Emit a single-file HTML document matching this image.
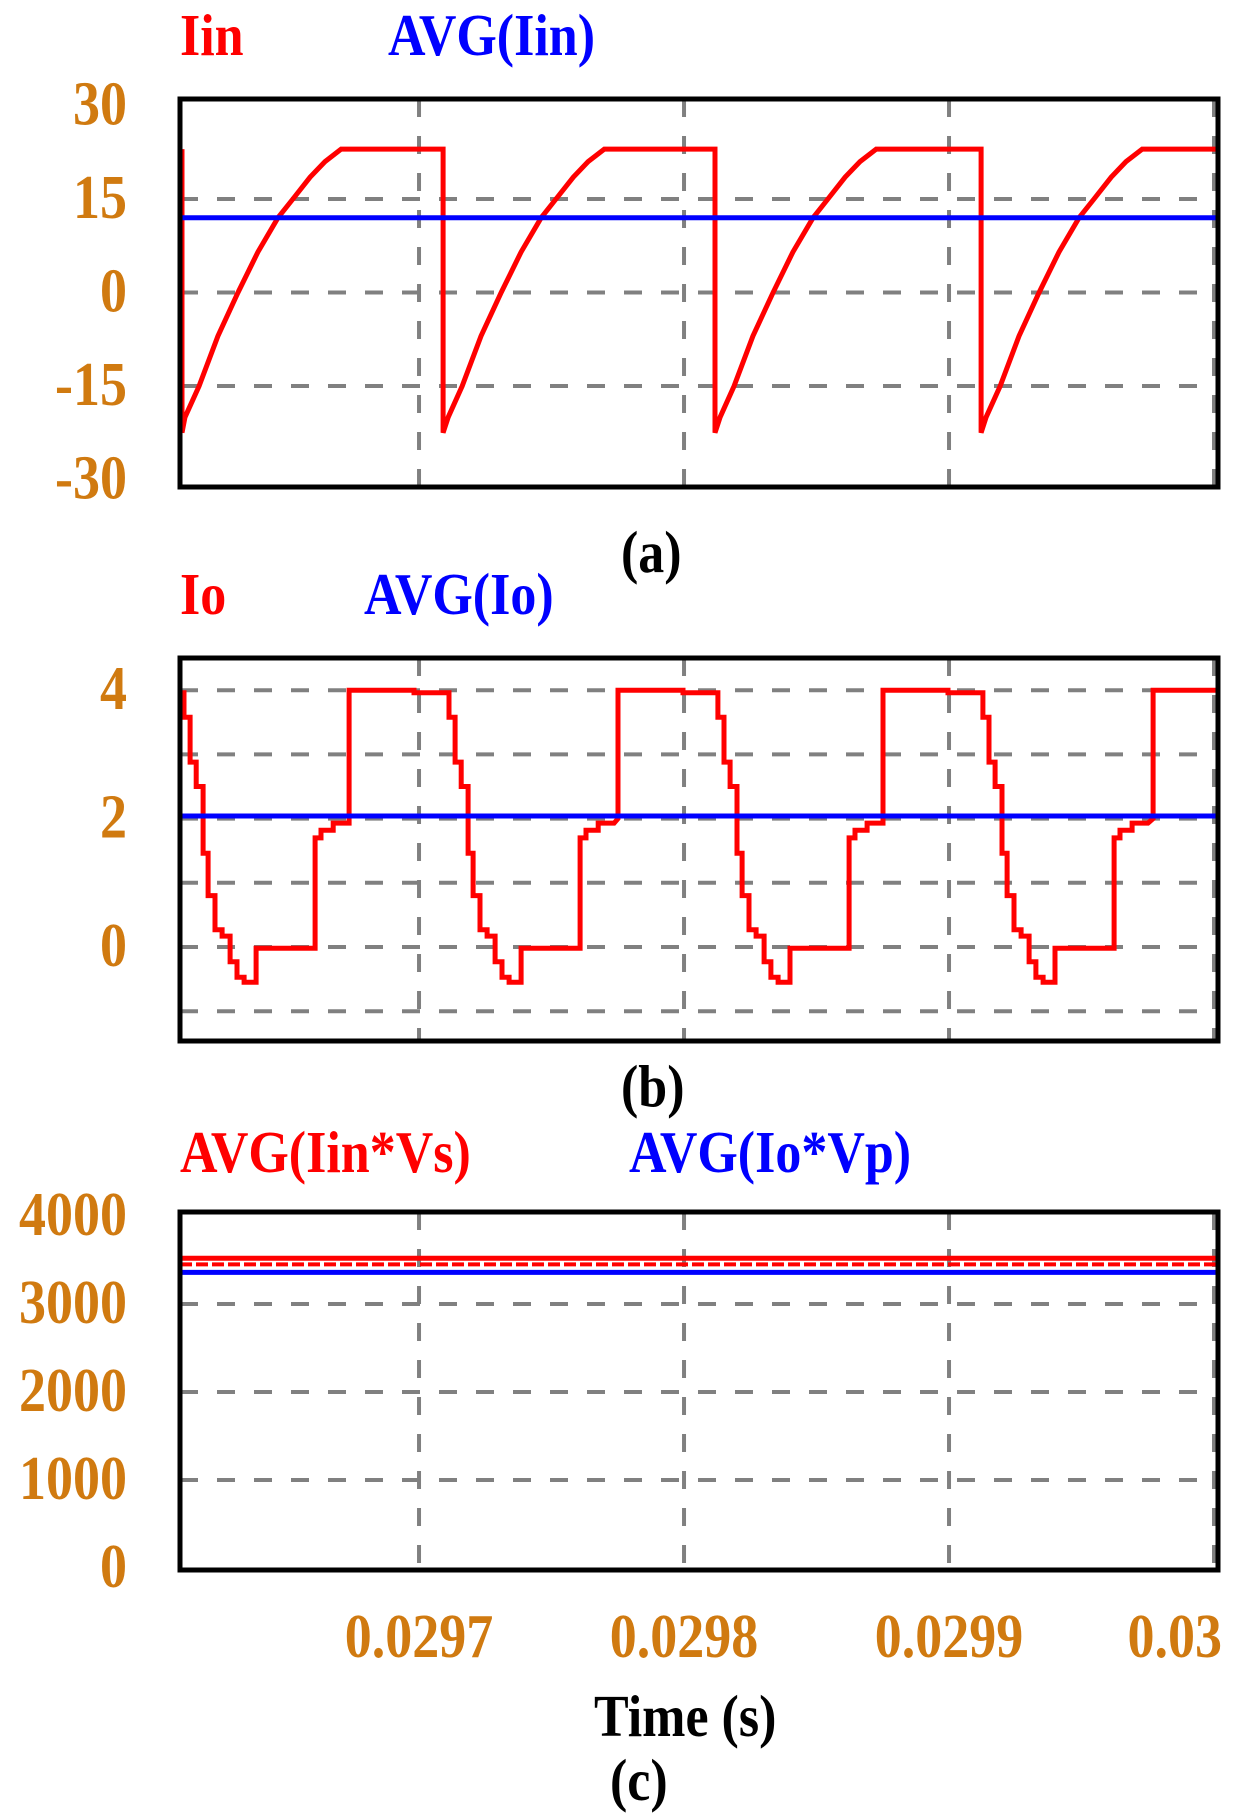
<!DOCTYPE html>
<html><head><meta charset="utf-8"><style>
html,body{margin:0;padding:0;background:#fff;}
svg{display:block;}
text{font-family:"Liberation Serif",serif;font-weight:bold;}
</style></head><body>
<svg id="chart" width="1235" height="1818" viewBox="0 0 1235 1818" xmlns="http://www.w3.org/2000/svg">
<defs>
<clipPath id="clipA"><rect x="180" y="99" width="1038" height="388"/></clipPath>
<clipPath id="clipB"><rect x="180" y="658" width="1038" height="383"/></clipPath>
<clipPath id="clipC"><rect x="180" y="1212" width="1038" height="358"/></clipPath>
</defs>
<g id="layer"></g>
</svg>
<script>
// shared time axis
const timeTicks = [0.0297, 0.0298, 0.0299, 0.03];
const timeTickLabels = ["0.0297", "0.0298", "0.0299", "0.03"];
const timeDomain = [0.0296098, 0.0300015];
// panel (a): Iin
const iinTicks = [30, 15, 0, -15, -30];
const iinGrid = [15, 0, -15];
const iinStartValue = 22;
const iinDropTimes = [0.0296098, 0.0297091, 0.0298117, 0.0299121];
const iinCycleOffsetsUs = [0, 0, 1.9, 7.2, 14.3, 21.9, 29.4, 37, 42.6, 49.1, 54.7, 60.8];
const iinCycleValues = [23, -22.5, -20, -15, -7, 0, 6.5, 12, 15, 18.5, 21, 23];
const iinAvg = 12.0;
// panel (b): Io
const ioTicks = [4, 2, 0];
const ioGrid = [4, 3, 2, 1, 0, -1];
const ioRiseTimes = [0.0295736, 0.0296736, 0.0297751, 0.0298751, 0.029977];
const ioCycleOffsetsUs = [0,0,24.5,24.5,37.7,37.7,40,40,42.3,42.3,44.9,44.9,46.8,46.8,49.4,49.4,52.1,52.1,55.1,55.1,57.7,57.7,60.4,60.4,64.9,64.9,87.2,87.2,89.4,89.4,94,94,100];
const ioCycleValues = [2.0,4.0,4.0,3.96,3.96,3.58,3.58,2.88,2.88,2.5,2.5,1.46,1.46,0.8,0.8,0.27,0.27,0.17,0.17,-0.23,-0.23,-0.47,-0.47,-0.55,-0.55,-0.02,-0.02,1.7,1.7,1.82,1.82,1.93,1.93];
const ioAvg = 2.04;
// panel (c): powers
const pTicks = [4000, 3000, 2000, 1000, 0];
const pGrid = [3000, 2000, 1000];
const pInAvg = 3520;
const pInAvgDashed = 3450;
const pOutAvg = 3360;

const NS = "http://www.w3.org/2000/svg";
const layer = document.getElementById("layer");
const X0 = 180, X1 = 1218;
function xScale(t){ return X0 + (t - timeDomain[0]) / (timeDomain[1] - timeDomain[0]) * (X1 - X0); }
function yA(v){ return 292.5 - 6.233 * v; }
function yB(v){ return 947 - 64.2 * v; }
function yC(v){ return 1568 - 0.088 * v; }

function mk(tag, attrs, parent){
  const e = document.createElementNS(NS, tag);
  for (const k in attrs) e.setAttribute(k, attrs[k]);
  (parent || layer).appendChild(e);
  return e;
}
function txt(s, x, y, fill, size, anchor, sy){
  const t = mk("text", {x: x, y: y / (sy||1), fill: fill, "font-size": size, "text-anchor": anchor || "start", transform: "scale(1," + (sy||1) + ")"});
  t.textContent = s;
  return t;
}

function panel(name, top, bottom, grid, yf, ticks){
  const g = mk("g", {});
  
  
  grid.forEach(v => {
    const l = mk("line", {x1: X0, x2: X1, y1: yf(v), y2: yf(v), stroke: "#808080", "stroke-width": 4, "stroke-dasharray": "18 19"}, g);
    
    
  });
  timeTicks.forEach(t => {
    const l = mk("line", {x1: xScale(t), x2: xScale(t), y1: top, y2: bottom, stroke: "#808080", "stroke-width": 4, "stroke-dasharray": "18 19"}, g);
    
    
  });
  ticks.forEach(v => {
    const t = txt(String(v), 127, yf(v) + 19, "#d07a10", 54, "end", 1.15);
    
    
  });
  return g;
}
function frame(name, top, bottom){
  const r = mk("rect", {x: X0, y: top, width: X1 - X0, height: bottom - top, fill: "none", stroke: "#000", "stroke-width": 5});
  
  
}

// ---- panel a
panel("iin", 99, 487, iinGrid, yA, iinTicks);
let dA = "M" + (xScale(timeDomain[0]) + 2).toFixed(1) + " " + yA(iinStartValue).toFixed(1);
iinDropTimes.forEach((d, k) => {
  iinCycleOffsetsUs.forEach((o, i) => {
    let x = xScale(d + o * 1e-6);
    if (k === 0 && i < 2) x += 2;
    const y = yA(iinCycleValues[i]);
    dA += "L" + x.toFixed(1) + " " + y.toFixed(1);
  });
  const nextT = k + 1 < iinDropTimes.length ? iinDropTimes[k + 1] : timeDomain[1];
  dA += "L" + xScale(nextT).toFixed(1) + " " + yA(iinCycleValues[iinCycleValues.length - 1]).toFixed(1);
});
const pa = mk("path", {d: dA, fill: "none", stroke: "#ff0000", "stroke-width": 5, "clip-path": "url(#clipA)"});


const ba = mk("line", {x1: X0, x2: X1, y1: yA(iinAvg), y2: yA(iinAvg), stroke: "#0000ff", "stroke-width": 5});


frame("iin", 99, 487);

// ---- panel b
panel("io", 658, 1041, ioGrid, yB, ioTicks);
let dB = "";
ioRiseTimes.forEach((u) => {
  ioCycleOffsetsUs.forEach((o, i) => {
    const x = xScale(u + o * 1e-6), y = yB(ioCycleValues[i]);
    dB += (dB ? "L" : "M") + x.toFixed(1) + " " + y.toFixed(1);
  });
});
const pb = mk("path", {d: dB, fill: "none", stroke: "#ff0000", "stroke-width": 5, "clip-path": "url(#clipB)"});


const bb = mk("line", {x1: X0, x2: X1, y1: yB(ioAvg), y2: yB(ioAvg), stroke: "#0000ff", "stroke-width": 5});


frame("io", 658, 1041);

// ---- panel c
panel("power", 1212, 1570, pGrid, yC, pTicks);
const rc = mk("line", {x1: X0, x2: X1, y1: yC(pInAvg), y2: yC(pInAvg), stroke: "#ff0000", "stroke-width": 5});


const rd = mk("line", {x1: X0, x2: X1, y1: yC(pInAvgDashed), y2: yC(pInAvgDashed), stroke: "#ff0000", "stroke-width": 4, "stroke-dasharray": "12 4"});


const bc = mk("line", {x1: X0, x2: X1, y1: yC(pOutAvg), y2: yC(pOutAvg), stroke: "#0000ff", "stroke-width": 5});


frame("power", 1212, 1570);

// x tick labels
timeTicks.forEach((t, i) => {
  const last = i === timeTicks.length - 1;
  const lbl = txt(timeTickLabels[i], last ? 1222 : xScale(t), 1657, "#d07a10", 54, last ? "end" : "middle", 1.15);
  
  
});

// titles / legends
const labels = [
  ["Iin", 180, 55, "#ff0000", "legend-iin"],
  ["AVG(Iin)", 388, 55, "#0000ff", "legend-avg-iin"],
  ["(a)", 621, 572, "#000", "caption-a"],
  ["Io", 180, 614, "#ff0000", "legend-io"],
  ["AVG(Io)", 364, 614, "#0000ff", "legend-avg-io"],
  ["(b)", 621, 1106, "#000", "caption-b"],
  ["AVG(Iin*Vs)", 180, 1172, "#ff0000", "legend-avg-input-power"],
  ["AVG(Io*Vp)", 629, 1172, "#0000ff", "legend-avg-output-power"],
  ["Time (s)", 594, 1736, "#000", "x-axis-title"],
  ["(c)", 610, 1800, "#000", "caption-c"]
];
labels.forEach(l => {
  const t = txt(l[0], l[1], l[2], l[3], 52, "start", 1.15);
  
  
});
</script>
</body></html>
